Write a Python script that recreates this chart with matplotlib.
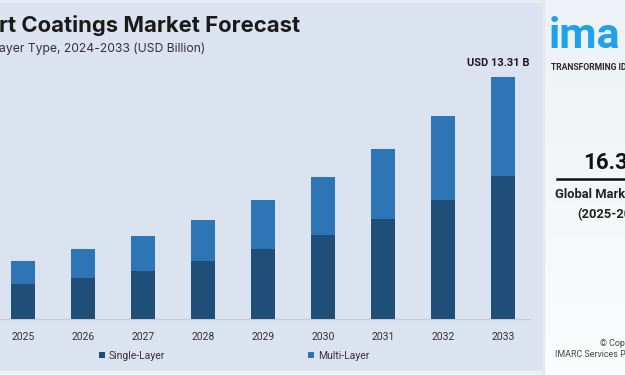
import matplotlib
matplotlib.use("Agg")
import matplotlib.pyplot as plt
import numpy as np
from matplotlib.patches import Rectangle

years = ["2025", "2026", "2027", "2028", "2029", "2030", "2031", "2032", "2033"]
single_layer = [1.92, 2.25, 2.64, 3.19, 3.85, 4.62, 5.50, 6.54, 7.87]
multi_layer = [1.27, 1.60, 1.92, 2.25, 2.70, 3.19, 3.85, 4.62, 5.44]
series_names = ["Single-Layer", "Multi-Layer"]
title_text = "rt Coatings Market Forecast"
subtitle_text = "ayer Type, 2024-2033 (USD Billion)"
annot_text = "USD 13.31 B"

W, H = 625, 375
plt.rcParams['font.family'] = ['Roboto', 'DejaVu Sans']

BG = "#dbe3f0"
DARK = "#1f4e79"
LIGHT = "#2e75b6"

fig = plt.figure(figsize=(W / 100, H / 100), dpi=100)
fig.patch.set_facecolor(BG)

def fx(px):
    return px / W

def fy(py):
    return 1 - py / H

# main axes: pixels x 0..542, y 60..319
ax_left, ax_right, ax_top, ax_bottom = 0, 542, 60, 319
ax = fig.add_axes([fx(ax_left), fy(ax_bottom), fx(ax_right - ax_left), (ax_bottom - ax_top) / H])
ax.set_facecolor(BG)

x = np.arange(len(years))
px_per_unit = 60.0
first_center = 23.0
xmin = -(first_center - ax_left) / px_per_unit
xmax = xmin + (ax_right - ax_left) / px_per_unit
ax.set_xlim(xmin, xmax)
scale = 13.31 / 242.0
ax.set_ylim(0, (ax_bottom - ax_top) * scale)

b1 = ax.bar(x, single_layer, width=0.4, color=DARK, label=series_names[0], zorder=3)
b2 = ax.bar(x, multi_layer, width=0.4, bottom=single_layer, color=LIGHT, label=series_names[1], zorder=3)

ax.set_xticks(x)
ax.set_xticklabels(years, fontsize=7.5, color="#333333")
ax.tick_params(axis='x', length=0, pad=9)
ax.set_yticks([])
for s in ["left", "right", "top"]:
    ax.spines[s].set_visible(False)
ax.spines["bottom"].set_color("#c4cbd6")
ax.spines["bottom"].set_linewidth(0.8)
ax.spines["bottom"].set_bounds(xmin, (530 - first_center) / px_per_unit)

totals = [a + b for a, b in zip(single_layer, multi_layer)]
ax.annotate(annot_text, xy=(x[-1], totals[-1]), xytext=(-5, 9), textcoords="offset pixels",
            ha="center", va="bottom", fontsize=8, fontweight="bold", color="#1a1a1a")

# legend
fig.legend(handles=[b1, b2], labels=series_names, loc="center",
           bbox_to_anchor=(fx(234), fy(356)), ncol=2, frameon=False,
           fontsize=7.5, handlelength=0.55, handleheight=0.55, handletextpad=0.35,
           columnspacing=13.8, labelcolor="#333333")

# title and subtitle
fig.text(fx(-1), fy(32), title_text, fontsize=15.9, fontweight="bold", color="#1a1a1a",
         ha="left", va="baseline", family=["Inter", "DejaVu Sans"])
fig.text(fx(-1), fy(52), subtitle_text, fontsize=8.75, color="#333333",
         ha="left", va="baseline", family=["Inter", "DejaVu Sans"])

# top and bottom light strips
fig.add_artist(Rectangle((0, fy(2)), fx(542), 2 / H, transform=fig.transFigure,
                         color="#e6ecf5", zorder=0))
fig.add_artist(Rectangle((0, 0), fx(542), 4 / H, transform=fig.transFigure,
                         color="#eef2f8", zorder=0))

# right panel
pan = fig.add_axes([fx(542), 0, fx(W - 542), 1])
pan.set_xlim(0, 1)
pan.set_ylim(0, 1)
pan.axis("off")
grad = np.linspace(0, 1, 200).reshape(-1, 1)
cmap = matplotlib.colors.LinearSegmentedColormap.from_list("p", ["#fbfcfd", "#eef1f5"])
pan.imshow(grad, extent=(0, 1, 0, 1), aspect="auto", cmap=cmap, origin="lower", zorder=0)
pan.add_patch(Rectangle((0, 0), 0.03, 1, color="#e4e9f0", zorder=1))

fig.text(fx(549), fy(48), "ima", fontsize=31, fontweight="bold", color="#1ea2ee",
         ha="left", va="baseline")
fig.text(fx(551), fy(70), "TRANSFORMING ID", fontsize=6.2, fontweight="bold",
         color="#2a2a2a", ha="left", va="baseline")
fig.text(fx(583), fy(169), "16.3", fontsize=16, fontweight="bold", color="#111111",
         ha="left", va="baseline")
fig.add_artist(plt.Line2D([fx(557), fx(W)], [fy(179), fy(179)], color="#111111", linewidth=1.8))
fig.text(fx(555), fy(198), "Global Mark", fontsize=9.3, fontweight="bold",
         color="#222222", ha="left", va="baseline")
fig.text(fx(577), fy(218), "(2025-20", fontsize=9.3, fontweight="bold",
         color="#222222", ha="left", va="baseline")
fig.text(fx(600), fy(346), "© Cop", fontsize=6.4, color="#444444",
         ha="left", va="baseline")
fig.text(fx(555), fy(357), "IMARC Services Pri", fontsize=6.4, color="#444444",
         ha="left", va="baseline")

fig.savefig("out.png", dpi=100, facecolor=fig.get_facecolor())
